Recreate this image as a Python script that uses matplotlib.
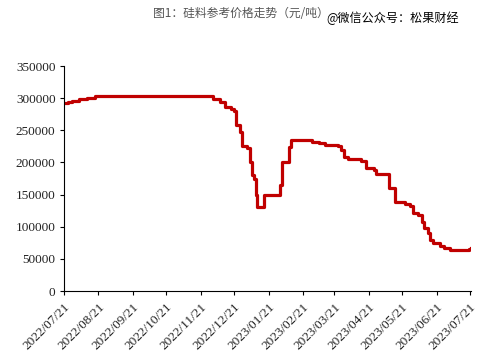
import pandas as pd
import matplotlib.pyplot as plt

plt.rcParams['font.family'] = 'Liberation Serif'

# silicon material reference price, yuan/ton
dates = ['2022-07-21', '2022-07-25', '2022-07-28', '2022-08-04', '2022-08-11',
         '2022-08-18', '2022-11-29', '2022-12-02', '2022-12-08', '2022-12-13',
         '2022-12-18', '2022-12-21', '2022-12-23', '2022-12-26', '2022-12-28',
         '2023-01-02', '2023-01-04', '2023-01-06', '2023-01-08', '2023-01-10',
         '2023-01-11', '2023-01-17', '2023-01-31', '2023-02-02', '2023-02-08',
         '2023-02-10', '2023-03-01', '2023-03-07', '2023-03-13', '2023-03-24',
         '2023-03-27', '2023-03-30', '2023-04-02', '2023-04-14', '2023-04-19',
         '2023-04-26', '2023-04-28', '2023-05-09', '2023-05-15', '2023-05-24',
         '2023-05-28', '2023-05-31', '2023-06-04', '2023-06-08', '2023-06-10',
         '2023-06-13', '2023-06-15', '2023-06-18', '2023-06-24', '2023-06-28',
         '2023-07-03', '2023-07-20', '2023-07-22']
prices = [292000, 294000, 296000, 299000, 301000,
          303000, 303000, 299000, 294000, 286000,
          283000, 280000, 258000, 248000, 226000,
          222000, 200000, 180000, 175000, 150000,
          131000, 150000, 165000, 200000, 224000,
          234800, 232000, 230000, 227000, 225000,
          219000, 209000, 205000, 202000, 191000,
          188000, 182000, 160000, 139000, 136000,
          133000, 122000, 118000, 108000, 98000,
          90000, 80000, 75000, 70000, 67000,
          64000, 66000, 66500]

tick_labels = ['2022/07/21', '2022/08/21', '2022/09/21', '2022/10/21', '2022/11/21',
               '2022/12/21', '2023/01/21', '2023/02/21', '2023/03/21', '2023/04/21',
               '2023/05/21', '2023/06/21', '2023/07/21']
y_ticks = [0, 50000, 100000, 150000, 200000, 250000, 300000, 350000]

x = pd.to_datetime(dates)
tick_pos = pd.to_datetime([t.replace('/', '-') for t in tick_labels])

fig = plt.figure(figsize=(4.99, 3.55), dpi=100)
ax = fig.add_axes([0.128, 0.180, 0.816, 0.634])

ax.plot(x, prices, color='#C00000', lw=2.3, drawstyle='steps-post')

ax.set_xlim(tick_pos[0], tick_pos[-1] + pd.Timedelta(days=1))
ax.set_ylim(0, 350000)
ax.set_yticks(y_ticks)
ax.set_yticklabels([str(v) for v in y_ticks], family='Liberation Serif',
                   fontsize=9.5, color='#222222')
ax.set_xticks(tick_pos)
ax.set_xticklabels(tick_labels, rotation=45, ha='right', rotation_mode='anchor',
                   family='Liberation Serif', fontsize=9.5, color='#222222')
ax.tick_params(axis='both', length=3, width=0.8, direction='out', pad=3)
ax.tick_params(axis='x', pad=4)
for s in ['top', 'right']:
    ax.spines[s].set_visible(False)
for s in ['left', 'bottom']:
    ax.spines[s].set_linewidth(0.8)

fig.text(0.307, 0.962, '图1：硅料参考价格走势（元/吨）', fontsize=8.5, color='#555555',
         family=['Noto Sans CJK SC', 'DejaVu Sans'], va='center')
fig.text(0.655, 0.948, '@微信公众号：松果财经', fontsize=8.7, color='black',
         family=['Noto Sans CJK SC', 'DejaVu Sans'], va='center')

fig.savefig('out.png', dpi=100)
